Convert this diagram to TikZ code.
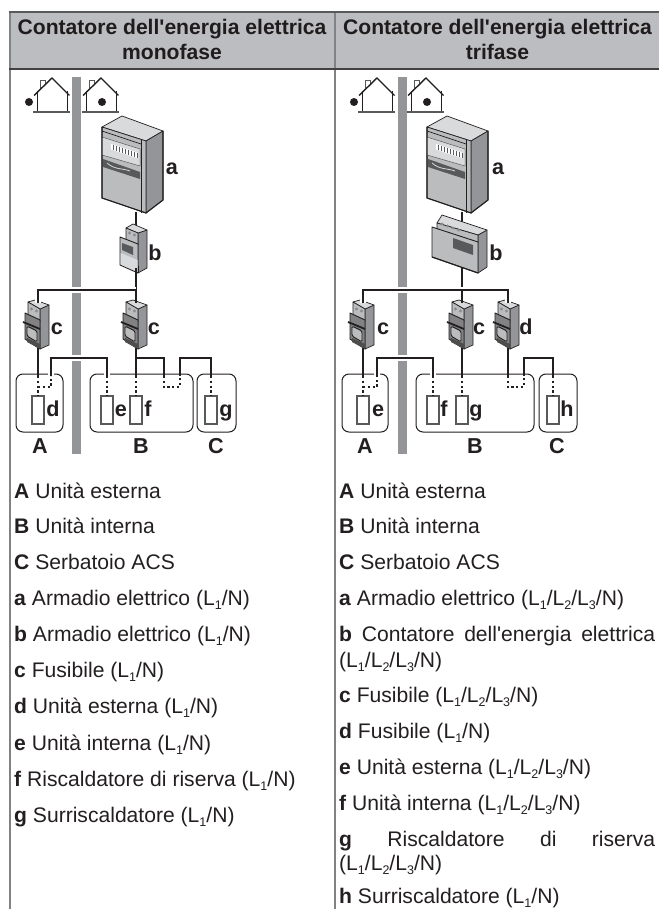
\documentclass[tikz,border=0pt]{standalone}
\usepackage{fontspec}
\setmainfont{Liberation Sans}
\definecolor{ink}{HTML}{231F20}
\definecolor{hdr}{HTML}{BCBDC0}
\definecolor{pole}{HTML}{939598}
\definecolor{rule}{HTML}{808285}
\definecolor{face}{HTML}{BBBCBE}
\definecolor{lite}{HTML}{D9DADC}
\definecolor{side}{HTML}{939598}
\definecolor{dark}{HTML}{58595B}
\newcommand{\sbs}[1]{\raisebox{-0.2em}{\fontsize{12.5}{12.5}\selectfont #1}}
\newcommand{\LN}{(L\sbs{1}/N)}
\newcommand{\LLLN}{(L\sbs{1}/L\sbs{2}/L\sbs{3}/N)}
\tikzset{
  x=1pt,y=-1pt,
  txt/.style={anchor=base west,inner sep=0pt,font=\fontsize{21.1}{24}\selectfont,text=ink},
  lbl/.style={anchor=base,inner sep=0pt,font=\fontsize{21.6}{24}\selectfont\bfseries,text=ink},
  headtxt/.style={anchor=base,inner sep=0pt,font=\fontsize{21.1}{24}\selectfont\bfseries,text=ink!90!black},
  wire/.style={draw=ink,line width=2.4pt,line cap=butt,line join=miter},
  halo/.style={wire,preaction={draw=white,line width=6pt}},
  dots/.style={draw=ink,line width=2.4pt,dash pattern=on 2.2pt off 2.6pt},
  unit/.style={draw=ink,line width=1pt,rounded corners=7pt},
  heater/.style={draw=dark,line width=1.1pt,fill=white,minimum width=0pt,inner sep=0pt},
  hs/.style={draw=ink,line width=1pt},
  edge/.style={draw=ink,line width=0.7pt,line join=round},
}
% house at horizontal shift
\newcommand{\house}[2]{%
  \begin{scope}[shift={(#1,0)}]
    \draw[draw=dark,line width=0.6pt,fill=white] (40,88)--(40,80)--(45,80)--(45,84);
    \draw[hs] (37,91)--(37,112) (67,91)--(67,112);
    \draw[draw=dark,line width=1.1pt] (33,112)--(70,112);
    \draw[draw=ink,line width=1.4pt] (34,95.5)--(52,78)--(69.5,95.5);
    \fill[ink] (#2,102) circle (4pt);
  \end{scope}}
% cabinet
\newcommand{\cabinet}[1]{%
  \begin{scope}[shift={(#1,0)}]
    \filldraw[edge,fill=lite] (102,127)--(122,116)--(163,131)--(146,141)--cycle;
    \filldraw[edge,fill=side] (146,141)--(163,131)--(163,200)--(146,213)--cycle;
    \filldraw[edge,fill=face] (102,127)--(146,141)--(146,213)--(102,198)--cycle;
    \draw[edge] (102,131)--(141,144);
    \draw[edge,line width=1pt] (141,140)--(141,213);
    \fill[lite] (102,137)--(140,149)--(140,166)--(102,155)--cycle;
    \draw[draw=dark,line width=0.5pt] (102,137)--(140,149)--(140,166) (102,155)--(140,166);
    \fill[white] (111,144)--(137,152.5)--(137,158)--(111,149.5)--cycle;
    \foreach \k in {0,...,8} {\draw[draw=dark,line width=0.7pt] (113+3*\k,145.4+0.98*\k)--(113+3*\k,150+0.98*\k);}
    \fill[dark] (103,159)--(140,172)--(140,179)--(103,167)--cycle;
    \draw[draw=lite,line width=0.8pt] (107,163) .. controls (115,170) and (122,168) .. (130,171);
    \draw[draw=ink,line width=1.1pt] (102,127)--(102,198)--(146,213)--(163,200)--(163,131);
  \end{scope}}
% breaker: #1 wire x, #2 name
\newcommand{\breaker}[2]{%
  \coordinate (#2-t) at (#1,303);
  \coordinate (#2-b) at (#1,348);
  \begin{scope}[shift={(#1-38,0)}]
    \filldraw[edge,fill=side] (40,309)--(49,305)--(49,345)--(40,349)--cycle;
    \filldraw[edge,fill=lite] (28,302)--(35,300)--(49,305)--(40,309)--cycle;
    \filldraw[edge,fill=face] (28,302)--(40,309)--(40,322)--(28,317)--cycle;
    \fill[dark!70] (31.5,309) circle (1.7pt) (36.5,311) circle (1.7pt);
    \filldraw[edge,fill=dark!75,line width=0.9pt] (25,313)--(40,320)--(40,349)--(25,339)--cycle;
    \draw[draw=ink,line width=1.8pt] (23,322)--(40,329);
    \filldraw[edge,fill=face,line width=0.9pt,rounded corners=1.5pt] (27,326)--(37,331)--(37,342)--(27,336)--cycle;
    \fill[ink!80] (27,338)--(40,344)--(40,349)--(27,342)--cycle;
  \end{scope}}
\begin{document}
\begin{tikzpicture}
\useasboundingbox (0,0) rectangle (659,909);
\fill[white] (0,0) rectangle (659,909);
% table
\fill[hdr] (9,12) rectangle (659,69);
\draw[draw=rule,line width=1.5pt] (10,12)--(10,909) (335,12)--(335,909);
\draw[draw=dark,line width=1.2pt] (9,12)--(659,12);
\draw[draw=ink!85,line width=1.3pt] (9,69)--(659,69);
\node[headtxt] (h1a) at (172,35) {Contatore dell\textquotesingle energia elettrica};
\node[headtxt] (h1b) at (172,60) {monofase};
\node[headtxt] (h2a) at (497.5,35) {Contatore dell\textquotesingle energia elettrica};
\node[headtxt] (h2b) at (497.5,60) {trifase};
% poles
\fill[pole] (72,77) rectangle (81,454);
\fill[pole] (398,77) rectangle (407,454);
% houses
\house{0}{29} \house{49}{53} \house{325}{29} \house{374}{53}
% LEFT diagram ------------------------------------------------
\cabinet{0}
\coordinate (La) at (136,212);
\coordinate (Lb) at (136,226);
\draw[wire] (La)--(Lb);
\coordinate (Ln) at (136,290);
\begin{scope}
  \filldraw[edge,fill=side] (138,233)--(147,230)--(147,268)--(138,273)--cycle;
  \filldraw[edge,fill=lite] (126,228)--(133,224)--(147,230)--(138,233)--cycle;
  \filldraw[edge,fill=face] (126,228)--(138,233)--(138,245)--(126,240)--cycle;
  \fill[dark!70] (129.5,233) circle (1.6pt) (134.5,235) circle (1.6pt);
  \filldraw[edge,fill=face,line width=0.9pt] (120,237)--(138,244)--(138,273)--(120,265)--cycle;
  \fill[lite] (120.5,253)--(137.5,260)--(137.5,272)--(120.5,264.5)--cycle;
  \fill[dark] (122,243)--(133,247)--(133,255)--(122,250)--cycle;
  \draw[draw=ink,line width=1pt] (138,266)--(138,273);
\end{scope}
\draw[wire] (136,268)--(Ln);
\breaker{38}{Lc1}
\breaker{136}{Lc2}
\node[unit,minimum width=47pt,minimum height=58pt,inner sep=0pt] (LA) at (39.5,403) {};
\node[unit,minimum width=103pt,minimum height=58pt,inner sep=0pt] (LB) at (141.5,403) {};
\node[unit,minimum width=39pt,minimum height=58pt,inner sep=0pt] (LC) at (216.5,403) {};
\node[heater,minimum width=12pt,minimum height=28pt] (Ld) at (38,410) {};
\node[heater,minimum width=12pt,minimum height=28pt] (Le) at (107,410) {};
\node[heater,minimum width=12pt,minimum height=28pt] (Lf) at (136,410) {};
\node[heater,minimum width=12pt,minimum height=28pt] (Lg) at (211,410) {};
\draw[halo] (Lc1-t)--(38,290)--(Ln);
\draw[wire] (Ln)--(Lc2-t);
\draw[wire] (Lc1-b)--(38,376);
\draw[dots] (38,376)--(Ld.north);
\draw[dots] (38,387)--(51,387)--(51,376);
\draw[halo] (51,376)--(51,358)--(107,358)--(107,376);
\draw[dots] (107,376)--(Le.north);
\draw[wire] (Lc2-b)--(136,376);
\draw[dots] (136,376)--(Lf.north);
\draw[wire] (136,358)--(164,358)--(164,376);
\draw[dots] (164,376)--(164,387)--(180,387)--(180,376);
\draw[wire] (180,376)--(180,358)--(211,358)--(211,376);
\draw[dots] (211,376)--(Lg.north);
\node[lbl] (la) at (172,175) {a};
\node[lbl] (lb) at (155,260) {b};
\node[lbl] (lc1) at (57,334) {c};
\node[lbl] (lc2) at (154,334) {c};
\node[lbl] (ld) at (53,416) {d};
\node[lbl] (le) at (121,416) {e};
\node[lbl] (lf) at (148,416) {f};
\node[lbl] (lg) at (226,416) {g};
\node[lbl] (lA) at (40,453) {A};
\node[lbl] (lB) at (141,453) {B};
\node[lbl] (lC) at (216,453) {C};
% RIGHT diagram ------------------------------------------------
\cabinet{325}
\coordinate (Ra) at (462,212);
\coordinate (Rn) at (462,290);
\draw[wire] (Ra)--(462,222);
\filldraw[edge,fill=side] (478,235)--(487,230)--(487,267)--(478,273)--cycle;
\filldraw[edge,fill=lite] (437,223)--(442,215)--(487,230)--(478,235)--cycle;
\filldraw[edge,fill=face] (437,223)--(478,235)--(478,243)--(437,230)--cycle;
\fill[dark!70] (442,224) circle (1.6pt) (447.5,226) circle (1.6pt) (453,228) circle (1.6pt) (458.5,230) circle (1.6pt);
\filldraw[edge,fill=face,line width=0.9pt] (432,227)--(478,242)--(478,273)--(432,257)--cycle;
\fill[dark] (453,238)--(473,245)--(473,255)--(453,248)--cycle;
\draw[draw=ink,line width=1.1pt] (432,257)--(478,273);
\draw[wire] (462,268)--(Rn);
\breaker{363}{Rc1}
\breaker{462}{Rc2}
\breaker{508}{Rc3}
\node[unit,minimum width=46pt,minimum height=58pt,inner sep=0pt] (RA) at (365,403) {};
\node[unit,minimum width=118pt,minimum height=58pt,inner sep=0pt] (RB) at (475,403) {};
\node[unit,minimum width=38pt,minimum height=58pt,inner sep=0pt] (RC) at (558,403) {};
\node[heater,minimum width=12pt,minimum height=28pt] (Re) at (363,410) {};
\node[heater,minimum width=12pt,minimum height=28pt] (Rf) at (433,410) {};
\node[heater,minimum width=12pt,minimum height=28pt] (Rg) at (462,410) {};
\node[heater,minimum width=12pt,minimum height=28pt] (Rh) at (553,410) {};
\draw[halo] (Rc1-t)--(363,290)--(508,290)--(Rc3-t);
\draw[wire] (Rn)--(Rc2-t);
\draw[wire] (Rc1-b)--(363,376);
\draw[dots] (363,376)--(Re.north);
\draw[dots] (363,387)--(377,387)--(377,376);
\draw[halo] (377,376)--(377,358)--(433,358)--(433,376);
\draw[dots] (433,376)--(Rf.north);
\draw[wire] (Rc2-b)--(462,376);
\draw[dots] (462,376)--(Rg.north);
\draw[wire] (Rc3-b)--(508,376);
\draw[dots] (508,376)--(508,387)--(524,387)--(524,376);
\draw[wire] (524,376)--(524,358)--(553,358)--(553,376);
\draw[dots] (553,376)--(Rh.north);
\node[lbl] (ra) at (498,175) {a};
\node[lbl] (rb) at (496,260) {b};
\node[lbl] (rc1) at (383,334) {c};
\node[lbl] (rc2) at (479,334) {c};
\node[lbl] (rd) at (526,334) {d};
\node[lbl] (re) at (378,416) {e};
\node[lbl] (rf) at (444,416) {f};
\node[lbl] (rg) at (476,416) {g};
\node[lbl] (rh) at (567,416) {h};
\node[lbl] (rA) at (365,453) {A};
\node[lbl] (rB) at (475,453) {B};
\node[lbl] (rC) at (557,453) {C};
% LEFT list
\node[txt] (t1) at (14,498) {\textbf{A} Unità esterna};
\node[txt] (t2) at (14,533.5) {\textbf{B} Unità interna};
\node[txt] (t3) at (14,569) {\textbf{C} Serbatoio ACS};
\node[txt] (t4) at (14,605) {\textbf{a} Armadio elettrico \LN};
\node[txt] (t5) at (14,641) {\textbf{b} Armadio elettrico \LN};
\node[txt] (t6) at (14,677) {\textbf{c} Fusibile \LN};
\node[txt] (t7) at (14,713) {\textbf{d} Unità esterna \LN};
\node[txt] (t8) at (14,750) {\textbf{e} Unità interna \LN};
\node[txt] (t9) at (14,786) {\textbf{f} Riscaldatore di riserva \LN};
\node[txt] (t10) at (14,822) {\textbf{g} Surriscaldatore \LN};
% RIGHT list
\node[txt] (u1) at (339,498) {\textbf{A} Unità esterna};
\node[txt] (u2) at (339,533.5) {\textbf{B} Unità interna};
\node[txt] (u3) at (339,569) {\textbf{C} Serbatoio ACS};
\node[txt] (u4) at (339,605) {\textbf{a} Armadio elettrico \LLLN};
\node[txt] (u5) at (339,641) {\makebox[316pt][s]{\textbf{b} Contatore dell\textquotesingle energia elettrica}};
\node[txt] (u5b) at (339,667) {\LLLN};
\node[txt] (u6) at (339,702) {\textbf{c} Fusibile \LLLN};
\node[txt] (u7) at (339,738) {\textbf{d} Fusibile \LN};
\node[txt] (u8) at (339,774) {\textbf{e} Unità esterna \LLLN};
\node[txt] (u9) at (339,810) {\textbf{f} Unità interna \LLLN};
\node[txt] (u10) at (339,846) {\makebox[316pt][s]{\textbf{g} Riscaldatore di riserva}};
\node[txt] (u10b) at (339,870) {\LLLN};
\node[txt] (u11) at (339,903.5) {\textbf{h} Surriscaldatore \LN};
\end{tikzpicture}
\end{document}
